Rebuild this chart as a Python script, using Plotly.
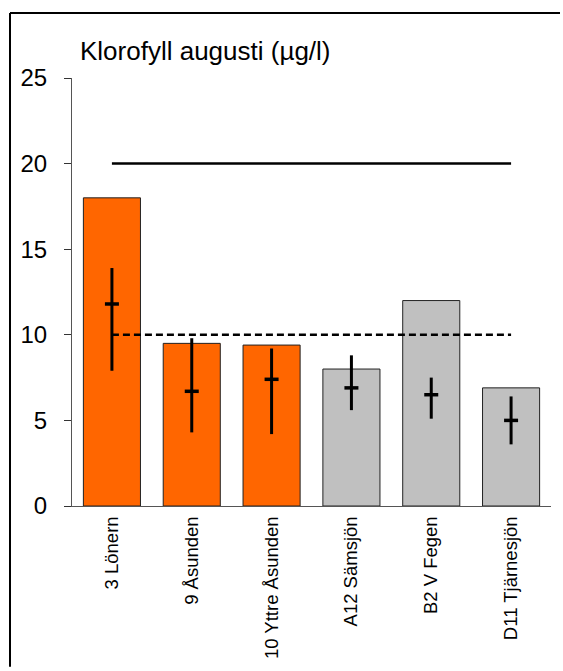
import plotly.graph_objects as go

# Lakes and measured chlorophyll (August)
lakes = ["3 Lönern", "9 Åsunden", "10 Yttre Åsunden", "A12 Sämsjön", "B2 V Fegen", "D11 Tjärnesjön"]
bar_values = [18.0, 9.5, 9.4, 8.0, 12.0, 6.9]
bar_colors = ["#FF6600", "#FF6600", "#FF6600", "#C0C0C0", "#C0C0C0", "#C0C0C0"]

# Long-term mean with min/max range
mean_values = [11.8, 6.7, 7.4, 6.9, 6.5, 5.0]
range_high = [13.9, 9.8, 9.2, 8.8, 7.5, 6.4]
range_low = [7.9, 4.3, 4.2, 5.6, 5.1, 3.6]

# Reference levels
limit_high = 20
limit_low = 10

y_ticks = [0, 5, 10, 15, 20, 25]

FONT = "Arial, Liberation Sans, sans-serif"

fig = go.Figure()

fig.add_trace(go.Bar(
    x=lakes, y=bar_values,
    marker=dict(color=bar_colors, line=dict(color="#222222", width=1)),
    width=0.715,
    showlegend=False, hoverinfo="skip",
))

fig.add_trace(go.Scatter(
    x=[lakes[0], lakes[-1]], y=[limit_high, limit_high],
    mode="lines", line=dict(color="black", width=2.5),
    showlegend=False, hoverinfo="skip",
))
fig.add_trace(go.Scatter(
    x=[lakes[0], lakes[-1]], y=[limit_low, limit_low],
    mode="lines", line=dict(color="black", width=2.5, dash="7px,4px"),
    showlegend=False, hoverinfo="skip",
))

fig.add_trace(go.Scatter(
    x=lakes, y=mean_values,
    mode="markers",
    marker=dict(symbol="line-ew", size=10, line=dict(color="black", width=3.5)),
    error_y=dict(
        type="data", symmetric=False,
        array=[h - m for h, m in zip(range_high, mean_values)],
        arrayminus=[m - l for m, l in zip(mean_values, range_low)],
        width=0, thickness=3, color="black",
    ),
    showlegend=False, hoverinfo="skip",
))

# Outer frame: left and top edges of the border
frame_x = (10 - 72) / 479
frame_y = 1 + (78 - 12.5) / 431
frame_right = (560 - 72) / 479
page_bottom = -(671 - 509) / 431
fig.add_shape(type="line", xref="paper", yref="paper",
              x0=frame_x, x1=frame_x, y0=page_bottom, y1=frame_y,
              line=dict(color="black", width=2))
fig.add_shape(type="line", xref="paper", yref="paper",
              x0=frame_x, x1=frame_right, y0=frame_y, y1=frame_y,
              line=dict(color="black", width=2))

fig.add_annotation(
    text="Klorofyll augusti (µg/l)",
    xref="paper", yref="paper",
    x=(78 - 72) / 479, y=1 + (78 - 51) / 431,
    xanchor="left", yanchor="middle",
    showarrow=False,
    font=dict(family=FONT, size=26, color="black"),
)

fig.update_layout(
    width=563, height=671,
    margin=dict(l=72, r=12, t=78, b=162),
    paper_bgcolor="white", plot_bgcolor="white",
    font=dict(family=FONT, color="black"),
    bargap=0.285,
)

fig.update_xaxes(
    type="category",
    range=[-0.5, 5.5],
    showline=True, linecolor="#555555", linewidth=1,
    showgrid=False, ticks="",
    tickangle=-90,
    tickfont=dict(family=FONT, size=18.5, color="black"),
    ticklabelstandoff=2,
)

fig.update_yaxes(
    range=[0, 25],
    tickvals=y_ticks,
    showline=True, linecolor="#555555", linewidth=1,
    showgrid=False, zeroline=False,
    ticks="outside", ticklen=7, tickcolor="#333333", tickwidth=1,
    tickfont=dict(family=FONT, size=24, color="black"),
    ticklabelstandoff=12,
)

fig.write_html("out.html")
